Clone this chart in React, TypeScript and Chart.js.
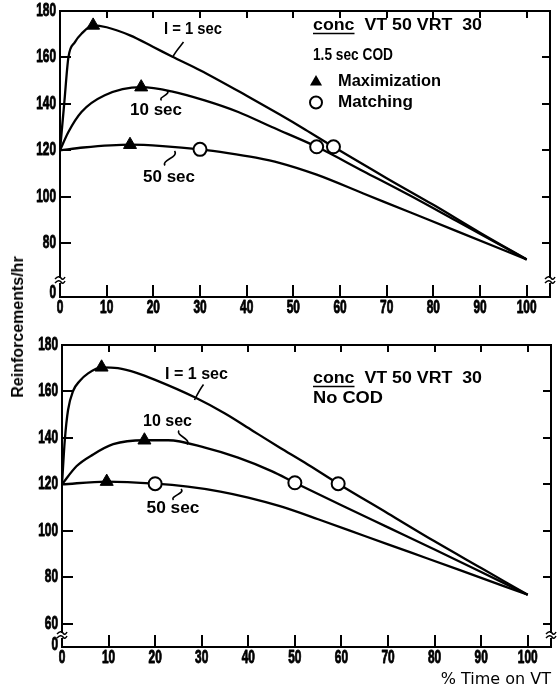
import React, { useEffect, useRef } from "react";
import { Chart, registerables } from "chart.js";

Chart.register(...registerables);

// ---------------- data ----------------
const xTickValues = [0, 10, 20, 30, 40, 50, 60, 70, 80, 90, 100];
const topYTickValues = [80, 100, 120, 140, 160, 180];
const bottomYTickValues = [60, 80, 100, 120, 140, 160, 180];

// Upper panel: conc VT 50 VRT 30, 1.5 sec COD
const codI1X = [0, 0.9, 1.8, 3.2, 4.6, 7.1, 10, 15, 20, 24, 30, 40, 47, 52.5, 58.6, 70, 80, 90, 100];
const codI1Y = [120, 140, 160, 166.6, 170.2, 173.8, 173, 169.5, 164.5, 160.4, 154.5, 143.5, 135.5, 129, 121.5, 108, 96.5, 84.5, 73];
const codI10X = [0, 1.8, 4.6, 9.6, 17.4, 23.9, 31, 38.2, 45.4, 55, 65, 75, 85, 100];
const codI10Y = [120, 127.9, 136.5, 143.7, 147.2, 145.4, 141.5, 136.5, 130, 121.5, 111, 100.5, 89.5, 73];
const codI50X = [0, 5, 15, 22, 30, 36, 42, 47, 55, 65, 75, 85, 100];
const codI50Y = [120, 121.2, 122.4, 121.8, 120.4, 118.8, 116.8, 114.6, 109.5, 101.4, 93.3, 85.2, 73];
const codMaxX = [7.1, 17.4, 15];
const codMaxY = [173.8, 147.2, 122.4];
const codMatchX = [58.6, 55, 30];
const codMatchY = [121.5, 121.5, 120.4];

// Lower panel: conc VT 50 VRT 30, No COD
const noCodI1X = [0, 0.6, 1.3, 2.4, 3.8, 5.6, 8.5, 12, 16, 20, 28.5, 35, 41, 46.8, 52.1, 59.3, 70, 80, 90, 100];
const noCodI1Y = [120, 139, 152, 160.3, 164.5, 167.8, 170.4, 170, 168, 165, 157.5, 150.5, 143, 135.8, 129.4, 120.3, 107.5, 95.5, 84, 72.5];
const noCodI10X = [0, 3.1, 6.7, 11, 17.7, 22.8, 30.7, 37.8, 45, 50, 60, 70, 80, 90, 100];
const noCodI10Y = [120, 127.8, 132.9, 137.3, 139, 139, 135.8, 131.5, 125.7, 120.7, 111, 101.5, 92, 82.3, 72.5];
const noCodI50X = [0, 9.6, 20, 27, 34, 40, 46.8, 55, 65, 75, 85, 100];
const noCodI50Y = [120, 121.2, 120.3, 119, 116.9, 114.3, 110.6, 105, 97.8, 90.6, 83.4, 72.5];
const noCodMaxX = [8.5, 17.7, 9.6];
const noCodMaxY = [170.4, 139, 121.2];
const noCodMatchX = [59.3, 50, 20];
const noCodMatchY = [120.3, 120.7, 120.3];

const curveLabels = ["I = 1 sec", "10 sec", "50 sec"];
const scheduleText = "conc  VT 50 VRT  30";
const topConditionText = "1.5 sec COD";
const bottomConditionText = "No COD";
const maxLegendText = "Maximization";
const matchLegendText = "Matching";
const yTitleText = "Reinforcements/hr";
const xTitleText = "% Time on VT";
const brokenAxisLabel = "0";

// ---------------- styling ----------------
const TICK_FONT = "bold 18px 'Liberation Sans', Arial, sans-serif";
const TICK_SQUEEZE = 0.66;
const NOTE_FONT = "bold 16px 'Liberation Sans', Arial, sans-serif";

type Note = { text: string; x: number; y: number; w: number; align: "center" | "left"; underlineFirst?: boolean };
type Leader = [number, number, number, number];

interface Panel {
  top: number;
  height: number;
  padTop: number;
  padRight: number;
  xAxisH: number;
  yAxisW: number;
  yMin: number;
  yTicks: number[];
  zeroShift: number;
  breakOffset: number;
  curves: [number[], number[]][];
  maxX: number[];
  maxY: number[];
  matchX: number[];
  matchY: number[];
  notes: Note[];
  leaders: Leader[];
  legendMarks: boolean;
  xTitle: boolean;
}

const topPanel: Panel = {
  top: 0,
  height: 330,
  padTop: 11,
  padRight: 10,
  xAxisH: 33,
  yAxisW: 60,
  yMin: 56.8,
  yTicks: topYTickValues,
  zeroShift: 4,
  breakOffset: 17,
  curves: [
    [codI1X, codI1Y],
    [codI10X, codI10Y],
    [codI50X, codI50Y],
  ],
  maxX: codMaxX,
  maxY: codMaxY,
  matchX: codMatchX,
  matchY: codMatchY,
  notes: [
    { text: curveLabels[0], x: 193, y: 30, w: 58, align: "center" },
    { text: curveLabels[1], x: 156, y: 111, w: 52, align: "center" },
    { text: curveLabels[2], x: 169, y: 177.5, w: 52, align: "center" },
    { text: scheduleText, x: 313, y: 26, w: 169, align: "left", underlineFirst: true },
    { text: topConditionText, x: 313, y: 56, w: 80, align: "left" },
    { text: maxLegendText, x: 338, y: 82, w: 103, align: "left" },
    { text: matchLegendText, x: 338, y: 103, w: 75, align: "left" },
  ],
  leaders: [
    [183.5, 42, 172.5, 57.5],
    [161.5, 100.5, 167, 90.5],
    [165, 165.5, 174.5, 151],
  ],
  legendMarks: true,
  xTitle: false,
};

const bottomPanel: Panel = {
  top: 330,
  height: 361,
  padTop: 15,
  padRight: 9,
  xAxisH: 44,
  yAxisW: 62,
  yMin: 50,
  yTicks: bottomYTickValues,
  zeroShift: 2,
  breakOffset: 12,
  curves: [
    [noCodI1X, noCodI1Y],
    [noCodI10X, noCodI10Y],
    [noCodI50X, noCodI50Y],
  ],
  maxX: noCodMaxX,
  maxY: noCodMaxY,
  matchX: noCodMatchX,
  matchY: noCodMatchY,
  notes: [
    { text: curveLabels[0], x: 196.5, y: 375, w: 63, align: "center" },
    { text: curveLabels[1], x: 167.5, y: 421.5, w: 49, align: "center" },
    { text: curveLabels[2], x: 173, y: 509, w: 53, align: "center" },
    { text: scheduleText, x: 313, y: 379, w: 169, align: "left", underlineFirst: true },
    { text: bottomConditionText, x: 313, y: 399, w: 70, align: "left" },
  ],
  leaders: [
    [203.5, 384.5, 194.5, 400],
    [179, 430.5, 187, 444.5],
    [173.5, 500, 181, 489],
  ],
  legendMarks: false,
  xTitle: true,
};

function drawFit(ctx: CanvasRenderingContext2D, n: Note, offY: number) {
  ctx.save();
  ctx.font = NOTE_FONT;
  ctx.fillStyle = "#000";
  ctx.textBaseline = "middle";
  ctx.textAlign = "left";
  const m = ctx.measureText(n.text).width;
  const s = n.w / m;
  const x0 = n.align === "center" ? n.x - n.w / 2 : n.x;
  const y0 = n.y - offY;
  ctx.translate(x0, y0);
  ctx.scale(s, 1);
  ctx.fillText(n.text, 0, 0);
  if (n.underlineFirst) {
    const first = n.text.split(" ")[0];
    const fw = ctx.measureText(first).width;
    ctx.lineWidth = 1.5;
    ctx.strokeStyle = "#000";
    ctx.beginPath();
    ctx.moveTo(0, 7.5);
    ctx.lineTo(fw, 7.5);
    ctx.stroke();
  }
  ctx.restore();
}

function drawSqueezed(ctx: CanvasRenderingContext2D, text: string, x: number, y: number, align: "center" | "right") {
  ctx.save();
  ctx.font = TICK_FONT;
  ctx.fillStyle = "#000";
  ctx.strokeStyle = "#000";
  ctx.lineWidth = 0.9;
  ctx.lineJoin = "round";
  ctx.textBaseline = "middle";
  ctx.textAlign = align;
  ctx.translate(x, y);
  ctx.scale(TICK_SQUEEZE, 1);
  ctx.fillText(text, 0, 0);
  ctx.strokeText(text, 0, 0);
  ctx.restore();
}

function overlay(panel: Panel) {
  return {
    id: "overlay",
    afterDraw(chart: any) {
      const ctx: CanvasRenderingContext2D = chart.ctx;
      const { left, right, top, bottom } = chart.chartArea;
      const xs = chart.scales.x;
      const ys = chart.scales.y;
      const off = panel.top;
      ctx.save();
      ctx.strokeStyle = "#000";
      ctx.lineWidth = 2;
      ctx.lineCap = "butt";
      ctx.strokeRect(left, top, right - left, bottom - top);
      // inward ticks
      ctx.beginPath();
      for (const t of ys.ticks) {
        if (t.value === panel.yMin) continue;
        const py = Math.round(ys.getPixelForValue(t.value));
        if (py <= top + 1) continue;
        ctx.moveTo(left, py);
        ctx.lineTo(left + 11, py);
        ctx.moveTo(right, py);
        ctx.lineTo(right - 8, py);
      }
      for (const t of xs.ticks) {
        if (t.value === 0) continue;
        const px = Math.round(xs.getPixelForValue(t.value));
        ctx.moveTo(px, bottom);
        ctx.lineTo(px, bottom - 12);
        ctx.moveTo(px, top);
        ctx.lineTo(px, top + 7);
      }
      ctx.stroke();
      // axis breaks
      const by = bottom - panel.breakOffset;
      for (const ax of [left, right]) {
        ctx.fillStyle = "#fff";
        ctx.fillRect(ax - 2, by - 2, 4, 5);
        ctx.lineWidth = 1.5;
        ctx.beginPath();
        ctx.moveTo(ax - 5, by - 1);
        ctx.quadraticCurveTo(ax - 1, by - 5, ax + 1, by - 2);
        ctx.quadraticCurveTo(ax + 3, by + 1, ax + 5, by - 3);
        ctx.moveTo(ax - 5, by + 3);
        ctx.quadraticCurveTo(ax - 1, by - 1, ax + 1, by + 2);
        ctx.quadraticCurveTo(ax + 3, by + 5, ax + 5, by + 1);
        ctx.stroke();
      }
      // leaders
      ctx.lineWidth = 1.6;
      for (const [x0, y0, x1, y1] of panel.leaders) {
        ctx.beginPath();
        ctx.moveTo(x0, y0 - off);
        const dx = x1 - x0;
        const dy = y1 - y0;
        ctx.bezierCurveTo(x0 - 4, y0 - off + dy * 0.35, x1 + dx * 0.1 + 4, y1 - off - dy * 0.4, x1, y1 - off);
        ctx.stroke();
      }
      // legend marks
      if (panel.legendMarks) {
        const tx = 316, ty = 82 - off, r = 7;
        ctx.fillStyle = "#000";
        ctx.beginPath();
        ctx.moveTo(tx, ty - r);
        ctx.lineTo(tx + r * 0.866, ty + r * 0.5);
        ctx.lineTo(tx - r * 0.866, ty + r * 0.5);
        ctx.closePath();
        ctx.fill();
        ctx.fillStyle = "#fff";
        ctx.lineWidth = 2;
        ctx.beginPath();
        ctx.arc(316, 102.5 - off, 6, 0, Math.PI * 2);
        ctx.fill();
        ctx.stroke();
      }
      ctx.restore();
      // tick labels from the scales' own ticks
      for (const t of xs.ticks) {
        drawSqueezed(ctx, String(t.value), xs.getPixelForValue(t.value), bottom + 11.5, "center");
      }
      for (const t of ys.ticks) {
        const isBreak = t.value === panel.yMin;
        const label = isBreak ? brokenAxisLabel : String(t.value);
        const py = ys.getPixelForValue(t.value) - (isBreak ? panel.zeroShift : 0);
        drawSqueezed(ctx, label, left - 4, py, "right");
      }
      for (const n of panel.notes) drawFit(ctx, n, off);
    },
  };
}

function pts(xs: number[], ys: number[]) {
  return xs.map((x, i) => ({ x, y: ys[i] }));
}

function makeConfig(panel: Panel): any {
  const lineSets = panel.curves.map(([xs, ys]) => ({
    data: pts(xs, ys),
    borderColor: "#000",
    borderWidth: 2.3,
    pointRadius: 0,
    cubicInterpolationMode: "monotone",
    fill: false,
    order: 2,
  }));
  return {
    type: "line",
    data: {
      datasets: [
        {
          data: pts(panel.matchX, panel.matchY),
          showLine: false,
          pointStyle: "circle",
          pointRadius: 6.5,
          pointBorderWidth: 2,
          pointBackgroundColor: "#fff",
          pointBorderColor: "#000",
          order: 0,
        },
        {
          data: pts(panel.maxX, panel.maxY),
          showLine: false,
          pointStyle: "triangle",
          pointRadius: 7.5,
          pointBorderWidth: 1,
          pointBackgroundColor: "#000",
          pointBorderColor: "#000",
          order: 1,
        },
        ...lineSets,
      ],
    },
    options: {
      responsive: false,
      animation: false,
      events: [],
      layout: { padding: { left: 0, right: panel.padRight, top: panel.padTop, bottom: 0 }, autoPadding: false },
      plugins: { legend: { display: false }, tooltip: { enabled: false } },
      scales: {
        x: {
          type: "linear",
          min: 0,
          max: 105,
          grid: { display: false },
          border: { display: false },
          ticks: { display: false },
          afterBuildTicks: (s: any) => {
            s.ticks = xTickValues.map((v) => ({ value: v }));
          },
          afterFit: (s: any) => {
            s.height = panel.xAxisH;
          },
          title: panel.xTitle
            ? {
                display: true,
                text: xTitleText,
                align: "end",
                color: "#000",
                font: { family: "'DejaVu Sans', sans-serif", size: 16, weight: "normal" },
                padding: { top: 0, bottom: 2 },
              }
            : { display: false },
        },
        y: {
          type: "linear",
          min: panel.yMin,
          max: 180,
          grid: { display: false },
          border: { display: false },
          ticks: { display: false },
          afterBuildTicks: (s: any) => {
            s.ticks = [panel.yMin, ...panel.yTicks].map((v) => ({ value: v }));
          },
          afterFit: (s: any) => {
            s.width = panel.yAxisW;
          },
        },
      },
    },
    plugins: [overlay(panel)],
  };
}

export default function App() {
  const topRef = useRef<HTMLCanvasElement>(null);
  const botRef = useRef<HTMLCanvasElement>(null);
  useEffect(() => {
    const a = new Chart(topRef.current as HTMLCanvasElement, makeConfig(topPanel));
    const b = new Chart(botRef.current as HTMLCanvasElement, makeConfig(bottomPanel));
    return () => {
      a.destroy();
      b.destroy();
    };
  }, []);
  return (
    <div style={{ position: "absolute", left: 0, top: 0, width: 560, height: 691, background: "#fff", overflow: "hidden" }}>
      <canvas ref={topRef} width={560} height={330} style={{ position: "absolute", left: 0, top: 0 }} />
      <canvas ref={botRef} width={560} height={361} style={{ position: "absolute", left: 0, top: 330 }} />
      <div
        style={{
          position: "absolute",
          left: 18,
          top: 327,
          transform: "translate(-50%, -50%) rotate(-90deg)",
          whiteSpace: "nowrap",
          font: "bold 16px 'Liberation Sans', Arial, sans-serif",
          color: "#000",
          lineHeight: "16px",
        }}
      >
        {yTitleText}
      </div>
    </div>
  );
}
